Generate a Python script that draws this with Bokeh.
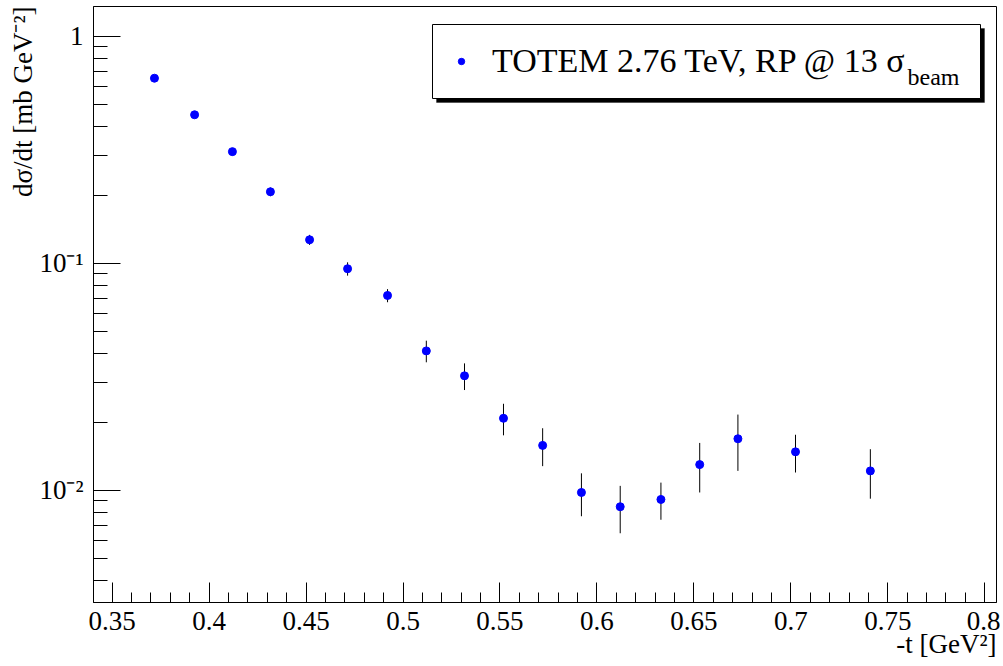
import math
from bokeh.plotting import figure
from bokeh.models import (Range1d, FixedTicker, CustomJSTickFormatter, Label, Legend,
                          LegendItem, BoxAnnotation, ColumnDataSource, Title)
from bokeh.embed import file_html
from bokeh.resources import INLINE

# ---- data ----
t_vals = [0.3718, 0.3925, 0.4120, 0.4316, 0.4518, 0.4714, 0.4920, 0.5120, 0.5317,
          0.5518, 0.5720, 0.5920, 0.6120, 0.6330, 0.6530, 0.6727, 0.7024, 0.7410]
dsdt = [0.655, 0.452, 0.311, 0.207, 0.1272, 0.0948, 0.0723, 0.0412, 0.0320,
        0.0208, 0.0158, 0.0098, 0.00848, 0.00913, 0.0130, 0.0169, 0.0148, 0.0122]
dsdt_err = [0.020, 0.015, 0.011, 0.009, 0.0065, 0.0064, 0.0048, 0.0045, 0.0043,
            0.0033, 0.0030, 0.0021, 0.0020, 0.0017, 0.0032, 0.0047, 0.0028, 0.0030]

x_ticks = [0.35, 0.40, 0.45, 0.50, 0.55, 0.60, 0.65, 0.70, 0.75, 0.80]
y_ticks = [0.01, 0.1, 1.0]
series_label = "TOTEM 2.76 TeV, RP @ 13 σ"
series_label_sub = "beam"
x_title = "-t [GeV²]"
y_title = "dσ/dt [mb GeV⁻²]"

FONT = "Liberation Serif"

src = ColumnDataSource(dict(
    t=t_vals, y=dsdt,
    lo=[v - e for v, e in zip(dsdt, dsdt_err)],
    hi=[v + e for v, e in zip(dsdt, dsdt_err)],
))

p = figure(width=1000, height=664, title=None,
           x_range=Range1d(0.34036, 0.80606), y_range=Range1d(0.003210, 1.3557),
           y_axis_type="log", output_backend="svg", toolbar_location=None,
           min_border_left=93, min_border_right=4, min_border_top=6, min_border_bottom=62)
p.xgrid.visible = False
p.ygrid.visible = False
p.outline_line_color = "black"
p.outline_line_width = 1
p.background_fill_color = "white"
p.border_fill_color = "white"

# x ticks
x_minor = [round(0.34 + 0.01 * i, 2) for i in range(47)]
p.xaxis.ticker = FixedTicker(ticks=x_ticks, minor_ticks=x_minor)
p.xaxis.formatter = CustomJSTickFormatter(code="return String(parseFloat(tick.toFixed(2)));")
# y ticks
y_minor = []
for d in y_ticks + [0.001]:
    for m in range(2, 10):
        y_minor.append(d * m)
p.yaxis.ticker = FixedTicker(ticks=y_ticks, minor_ticks=y_minor)
p.yaxis.formatter = CustomJSTickFormatter(code="""
const e = Math.round(Math.log10(tick));
if (e === 0) return "1";
const sup = {"-":"\u207b","0":"\u2070","1":"\u00b9","2":"\u00b2","3":"\u00b3","4":"\u2074","5":"\u2075","6":"\u2076","7":"\u2077","8":"\u2078","9":"\u2079"};
return "10" + String(e).split("").map(c => sup[c]).join("");
""")

for ax in (p.xaxis[0], p.yaxis[0]):
    ax.major_label_text_font = FONT
    ax.major_label_text_font_size = "27px"
    ax.major_label_text_color = "black"
    ax.axis_line_color = "black"
    ax.major_tick_line_color = "black"
    ax.minor_tick_line_color = "black"
    ax.major_tick_out = 0
    ax.minor_tick_out = 0
p.xaxis.major_tick_in = 20
p.xaxis.minor_tick_in = 10
p.yaxis.major_tick_in = 27
p.yaxis.minor_tick_in = 14
p.xaxis.major_label_standoff = 9
p.yaxis.major_label_standoff = 10

# axis titles as side-panel titles aligned to the far end of each axis
xt = Title(text=x_title, align="right", text_font=FONT, text_font_size="27px",
           text_font_style="normal", text_color="black", standoff=-12)
p.add_layout(xt, "below")
yt = Title(text=y_title, align="right", text_font=FONT, text_font_size="27px",
           text_font_style="normal", text_color="black", standoff=-2)
p.add_layout(yt, "left")

# error bars + points
p.segment(x0="t", y0="lo", x1="t", y1="hi", source=src, line_color="black", line_width=1)
r = p.scatter(x="t", y="y", source=src, size=8, fill_color="blue", line_color="blue")

# legend frame (shadow + box), then subscript, then transparent legend on top
shadow = BoxAnnotation(left=343, right=891, bottom=500, top=574,
                       left_units="screen", right_units="screen",
                       bottom_units="screen", top_units="screen",
                       fill_color="black", fill_alpha=1, line_color="black",
                       propagate_hover=False)
p.add_layout(shadow)
box = BoxAnnotation(left=339, right=887, bottom=504, top=578,
                    left_units="screen", right_units="screen",
                    bottom_units="screen", top_units="screen",
                    fill_color="white", fill_alpha=1, line_color="black", line_width=1,
                    line_alpha=1, propagate_hover=False)
p.add_layout(box)

sub = Label(x=814, y=526, x_units="screen", y_units="screen", text=series_label_sub,
            text_font=FONT, text_font_size="24px", text_color="black",
            text_baseline="alphabetic", text_align="left")
p.add_layout(sub)

legend = Legend(items=[LegendItem(label=series_label, renderers=[r])],
                location=(339, 504), orientation="vertical")
legend.label_text_font = FONT
legend.label_text_font_size = "34px"
legend.label_text_color = "black"
legend.border_line_alpha = 0
legend.background_fill_alpha = 0
legend.padding = 15
legend.margin = 0
legend.glyph_width = 28
legend.glyph_height = 16
legend.label_standoff = 17
legend.label_width = 473
legend.label_height = 44
p.add_layout(legend)

open("out.html", "w").write(file_html(p, INLINE))
